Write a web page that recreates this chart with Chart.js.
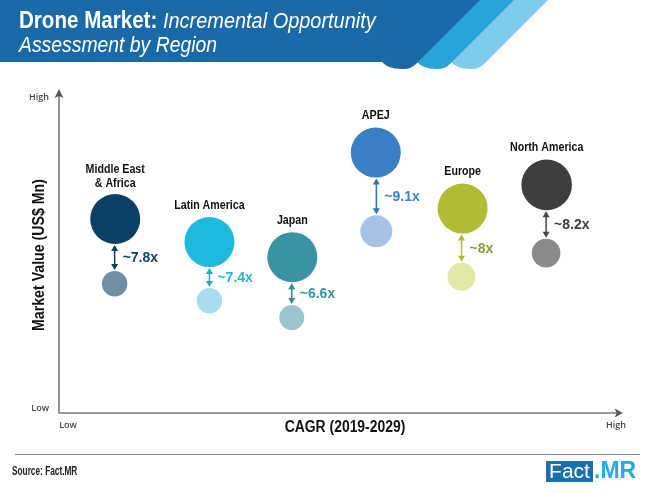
<!DOCTYPE html>
<html><head><meta charset="utf-8">
<style>html,body{margin:0;padding:0;background:#fff}canvas{display:block}</style>
<script src="https://cdn.jsdelivr.net/npm/chart.js@4"></script></head>
<body><canvas id="c" width="652" height="493"></canvas>
<script>
const regions=["Middle East\n& Africa","Latin America","Japan","APEJ","Europe","North America"];
const multiples=["~7.8x","~7.4x","~6.6x","~9.1x","~8x","~8.2x"];
const cagr=[9.9,26.5,41.1,55.8,71.1,85.9];
const cagrBase=[9.8,26.5,41.0,55.9,70.9,85.8];
const valueEnd=[61.4,54.1,49.3,82.4,64.7,72.2];
const valueStart=[40.9,35.5,30.2,57.5,43.1,50.6];
const sizeEnd=[25,25,25,25,25,25.3];
const sizeStart=[12.7,12.7,12.5,16,14,14.3];
const colorEnd=["#0b3f63","#1fb9e0","#3a93a2","#3a80c4","#b2bb34","#3e3e3e"];
const colorStart=["#6f8ea3","#a6dcec","#9cc5cd","#a5c3e5","#e3e8a8","#8a8a8a"];
const arrowColor=["#0e3f63","#2aa6c8","#2f8a9a","#2f76b8","#b2bb34","#444444"];
const multColor=["#123f62","#27b4dc","#3a93a2","#3f83c6","#8f9a30","#3e3e3e"];
const xTickValues=[1.6,98.1], xTickLabels=["Low","High"];
const yTickValues=[1.3,100], yTickLabels=["Low","High"];
const sans='"Liberation Sans",sans-serif';

function squeezed(c,str,x,y,font,sx,align,rot){
  c.save();c.font=font;c.textAlign='left';
  const w=c.measureText(str).width*sx;
  c.translate(x,y);if(rot)c.rotate(rot);
  c.scale(sx,1);
  c.fillText(str,(align==='center'?-w/2:0)/sx,0);
  c.restore();
  return w;
}

const decor={id:'decor',
 beforeDraw(ch){const c=ch.ctx;c.save();
  c.fillStyle='#fff';c.fillRect(0,0,652,493);
  const ribbon=(col,tr,cx,lx)=>{c.fillStyle=col;c.beginPath();c.moveTo(tr,0);
    c.arcTo(cx,69,lx,69,17);c.lineTo(lx+17,69);c.quadraticCurveTo(lx+4,69,lx-2,62);c.lineTo(lx-2,0);c.closePath();c.fill();};
  ribbon('#7fcbeb',548,479,453);
  ribbon('#29a4d8',514,445,419);
  ribbon('#1a69a8',480,411,384);
  c.fillStyle='#1a69a8';c.fillRect(0,0,400,62);
  c.fillStyle='#fff';c.textBaseline='alphabetic';
  squeezed(c,'Drone Market:',19,28,'bold 24px '+sans,.857,'left');
  squeezed(c,'Incremental Opportunity',163,28,'italic 22px '+sans,.906,'left');
  squeezed(c,'Assessment by Region',19,52,'italic 22px '+sans,.88,'left');
  c.restore();},
 afterDatasetsDraw(ch){const c=ch.ctx,big=ch.getDatasetMeta(0).data,small=ch.getDatasetMeta(1).data;
  const a=ch.chartArea,tip=a.right-4;c.save();
  c.strokeStyle='#777';c.fillStyle='#555';c.lineWidth=1.6;
  c.beginPath();c.moveTo(a.left,a.top-4);c.lineTo(a.left,a.bottom);c.lineTo(tip-4,a.bottom);c.stroke();
  c.beginPath();c.moveTo(a.left,a.top-8);c.lineTo(a.left-4.5,a.top+1);c.lineTo(a.left,a.top-1);c.lineTo(a.left+4.5,a.top+1);c.closePath();c.fill();
  c.beginPath();c.moveTo(tip,a.bottom);c.lineTo(tip-8,a.bottom-4.5);c.lineTo(tip-6,a.bottom);c.lineTo(tip-8,a.bottom+4.5);c.closePath();c.fill();
  c.textBaseline='middle';
  c.fillStyle='#111';
  squeezed(c,'CAGR (2019-2029)',345,428,'bold 16px '+sans,.87,'center');
  squeezed(c,'Market Value (US$ Mn)',40,255,'bold 16px '+sans,.885,'center',-Math.PI/2);
  big.forEach((b,i)=>{const s=small[i],x=s.x,y1=b.y+b.options.radius+1,y2=s.y-s.options.radius-1;
   c.strokeStyle=c.fillStyle=arrowColor[i];c.lineWidth=1.5;
   c.beginPath();c.moveTo(x,y1+4);c.lineTo(x,y2-4);c.stroke();
   c.beginPath();c.moveTo(x,y1);c.lineTo(x-3.5,y1+6);c.lineTo(x+3.5,y1+6);c.closePath();c.fill();
   c.beginPath();c.moveTo(x,y2);c.lineTo(x-3.5,y2-6);c.lineTo(x+3.5,y2-6);c.closePath();c.fill();
   c.fillStyle='#111';
   const lines=regions[i].split('\n');
   lines.forEach((t,k)=>squeezed(c,t,b.x,b.y-b.options.radius-12-(lines.length-1-k)*14+(lines.length>1?1:0),'bold 13px '+sans,.82,'center'));
   c.fillStyle=multColor[i];c.font='bold 14px '+sans;c.textAlign='left';
   c.fillText(multiples[i],x+8,(y1+y2)/2+1);
  });
  c.strokeStyle='#888';c.lineWidth=1.2;c.beginPath();c.moveTo(15,454.5);c.lineTo(640,454.5);c.stroke();
  c.fillStyle='#222';squeezed(c,'Source: Fact.MR',12,472,'bold 12px '+sans,.69,'left');
  c.fillStyle='#1a6fae';c.fillRect(546,461,47,21);
  c.fillStyle='#fff';c.font='21px '+sans;c.textAlign='center';c.fillText('Fact',569.5,472);
  c.fillStyle='#29a9e0';c.font='bold 23px '+sans;c.textAlign='left';c.fillText('.MR',594,472);
  c.restore();}
};

new Chart(document.getElementById('c'),{type:'bubble',plugins:[decor],
 data:{datasets:[
  {label:'2029',data:regions.map((_,i)=>({x:cagr[i],y:valueEnd[i],r:sizeEnd[i]})),backgroundColor:colorEnd,borderWidth:0,hoverBorderWidth:0},
  {label:'2019',data:regions.map((_,i)=>({x:cagrBase[i],y:valueStart[i],r:sizeStart[i]})),backgroundColor:colorStart,borderWidth:0,hoverBorderWidth:0}
 ]},
 options:{responsive:false,animation:false,devicePixelRatio:1,events:[],clip:false,
  layout:{padding:{top:97,right:18,left:0,bottom:0}},
  plugins:{legend:{display:false},tooltip:{enabled:false},title:{display:false}},
  scales:{
   x:{type:'linear',min:0,max:100,grid:{display:false,drawTicks:false},border:{display:false},
    afterFit(s){s.height=80;s.paddingLeft=0;s.paddingRight=0;},
    afterBuildTicks(s){s.ticks=xTickValues.map(v=>({value:v}));},
    ticks:{autoSkip:false,maxRotation:0,padding:7,color:'#444',font:{family:'"Open Sans"',size:9,weight:'600'},callback:(v,i)=>xTickLabels[i]}},
   y:{type:'linear',min:0,max:100,grid:{display:false,drawTicks:false},border:{display:false},
    afterFit(s){s.width=59;s.paddingTop=0;s.paddingBottom=0;},
    afterBuildTicks(s){s.ticks=yTickValues.map(v=>({value:v}));},
    ticks:{autoSkip:false,maxRotation:0,padding:10,color:'#444',font:{family:'"Open Sans"',size:9,weight:'600'},callback:(v,i)=>yTickLabels[i]}}
  }}});
</script></body></html>
